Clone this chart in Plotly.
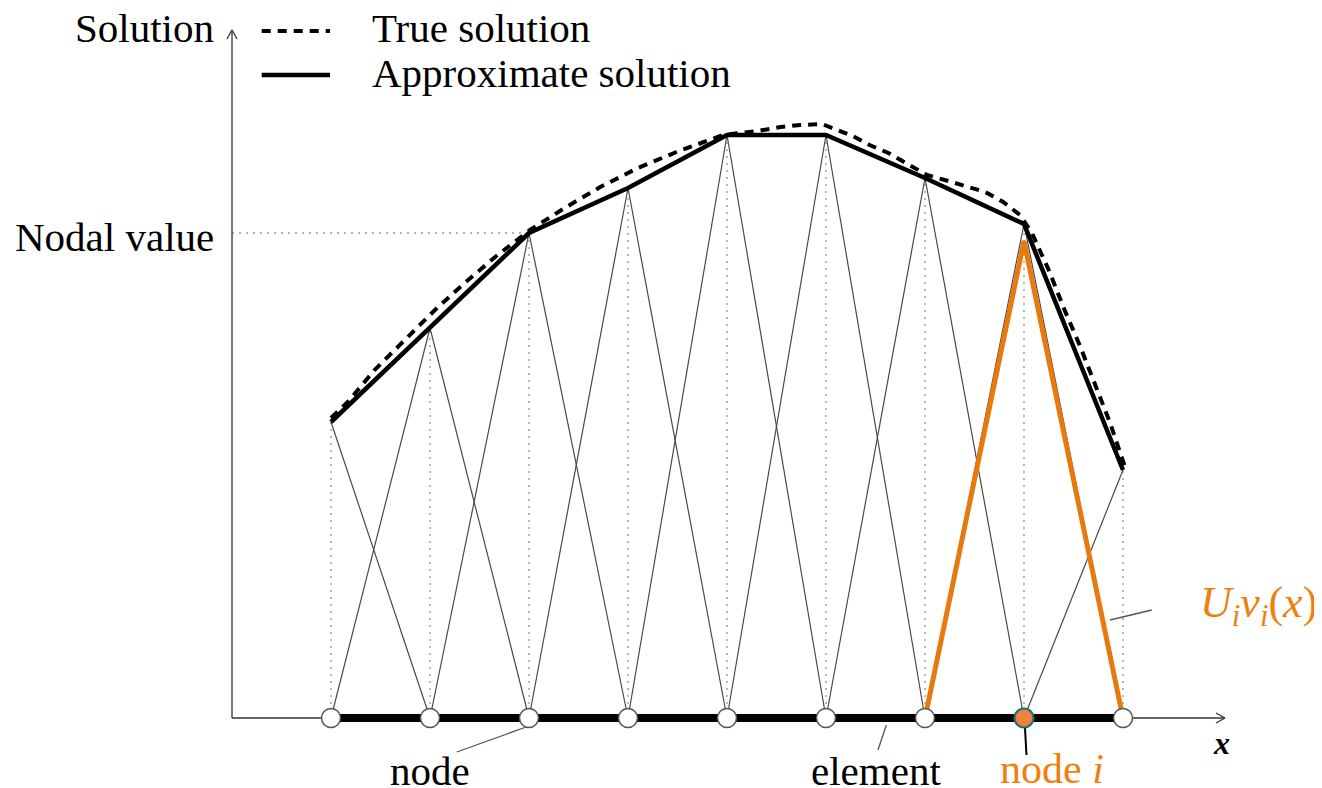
import plotly.graph_objects as go

# ---------------- data ----------------
node_x = [1, 2, 3, 4, 5, 6, 7, 8, 9]
nodal_values = [2.96, 3.90, 4.85, 5.30, 5.83, 5.83, 5.40, 4.94, 2.48]
true_x = [1.0, 1.17, 1.44, 1.75, 2.05, 2.35, 2.67, 3.01, 3.36, 3.72, 4.10, 4.49,
          4.69, 4.96, 5.31, 5.54, 5.74, 5.96, 6.27, 6.44, 6.63, 6.80, 7.02, 7.20,
          7.42, 7.61, 7.79, 7.96, 8.08, 8.25, 8.41, 8.57, 8.72, 8.87, 9.02]
true_y = [3.00, 3.16, 3.48, 3.79, 4.08, 4.35, 4.62, 4.88, 5.10, 5.31, 5.50, 5.66,
          5.73, 5.83, 5.87, 5.91, 5.93, 5.94, 5.82, 5.73, 5.65, 5.55, 5.43, 5.38,
          5.32, 5.26, 5.16, 5.03, 4.85, 4.48, 4.08, 3.71, 3.33, 2.95, 2.51]
highlight = 7          # index of "node i"
highlight_peak = 4.77  # U_i v_i(x) peak
labelled_node = 2      # node whose value is marked "Nodal value"
x_axis_end = 10.03
y_axis_end = 6.88

ORANGE = "#E8790C"
TEXT_ORANGE = "#F07F10"
SERIF = "Liberation Serif"

fig = go.Figure()

# dotted verticals under nodes
vx, vy = [], []
for x, u in zip(node_x, nodal_values):
    vx += [x, x, None]
    vy += [0, u, None]
# dotted horizontal for nodal value
vx += [0, node_x[labelled_node], None]
vy += [nodal_values[labelled_node], nodal_values[labelled_node], None]
fig.add_trace(go.Scatter(x=vx, y=vy, mode="lines",
                         line=dict(color="#9a9a9a", width=1.4, dash="2px,5px"),
                         hoverinfo="skip"))

# hat (basis) functions
hx, hy = [], []
n = len(node_x)
for k in range(n):
    xs, ys = [], []
    if k > 0:
        xs.append(node_x[k - 1]); ys.append(0)
    xs.append(node_x[k]); ys.append(nodal_values[k])
    if k < n - 1:
        xs.append(node_x[k + 1]); ys.append(0)
    hx += xs + [None]
    hy += ys + [None]
fig.add_trace(go.Scatter(x=hx, y=hy, mode="lines",
                         line=dict(color="#4a4a4a", width=1.2),
                         hoverinfo="skip"))

# highlighted hat function U_i v_i(x)
fig.add_trace(go.Scatter(
    x=[node_x[highlight - 1], node_x[highlight], node_x[highlight + 1]],
    y=[0, highlight_peak, 0], mode="lines",
    line=dict(color=ORANGE, width=5), hoverinfo="skip"))

# true solution (dashed)
fig.add_trace(go.Scatter(x=true_x, y=true_y, mode="lines",
                         line=dict(color="black", width=4, dash="9px,7px"),
                         hoverinfo="skip"))
# approximate solution
fig.add_trace(go.Scatter(x=node_x, y=nodal_values, mode="lines",
                         line=dict(color="black", width=4.5),
                         hoverinfo="skip"))

# axes
ax_col = "#333333"
fig.add_trace(go.Scatter(x=[0, x_axis_end], y=[0, 0], mode="lines",
                         line=dict(color=ax_col, width=1.3), hoverinfo="skip"))
fig.add_trace(go.Scatter(x=[0, 0], y=[0, y_axis_end], mode="lines",
                         line=dict(color=ax_col, width=1.3), hoverinfo="skip"))
# arrowheads (open chevrons)
dxp, dyp = 9 / 99, 5 / 100
fig.add_trace(go.Scatter(x=[x_axis_end - dxp, x_axis_end, x_axis_end - dxp],
                         y=[dyp, 0, -dyp], mode="lines",
                         line=dict(color=ax_col, width=1.3), hoverinfo="skip"))
fig.add_trace(go.Scatter(x=[-5 / 99, 0, 5 / 99],
                         y=[y_axis_end - 0.09, y_axis_end, y_axis_end - 0.09], mode="lines",
                         line=dict(color=ax_col, width=1.3), hoverinfo="skip"))

# elements: thick baseline
fig.add_trace(go.Scatter(x=[node_x[0], node_x[-1]], y=[0, 0], mode="lines",
                         line=dict(color="black", width=8), hoverinfo="skip"))

# leader lines
leaders = [
    ([3.0, 2.27], [-0.08, -0.34], "#555555", 1.3),
    ([6.61, 6.525], [-0.07, -0.32], "#555555", 1.3),
    ([8.01, 8.025], [-0.10, -0.37], "black", 2),
    ([8.87, 9.29], [0.98, 1.08], "#555555", 1.3),
]
for lx, ly, c, w in leaders:
    fig.add_trace(go.Scatter(x=lx, y=ly, mode="lines",
                             line=dict(color=c, width=w), hoverinfo="skip"))

# nodes
fills = ["white"] * n
edges = ["#555555"] * n
widths = [1.5] * n
fills[highlight] = "#EE8142"
edges[highlight] = "#1B6E78"
widths[highlight] = 2.2
fig.add_trace(go.Scatter(x=node_x, y=[0] * n, mode="markers",
                         marker=dict(size=19, color=fills,
                                     line=dict(color=edges, width=widths)),
                         hoverinfo="skip"))

# legend samples
fig.add_trace(go.Scatter(x=[0.30, 0.99], y=[6.87, 6.87], mode="lines",
                         line=dict(color="black", width=4, dash="9px,7px"),
                         hoverinfo="skip"))
fig.add_trace(go.Scatter(x=[0.30, 0.99], y=[6.43, 6.43], mode="lines",
                         line=dict(color="black", width=4.5), hoverinfo="skip"))

anns = [
    dict(x=-0.16, y=6.90, text="Solution", xanchor="right", size=41, color="black"),
    dict(x=-0.16, y=nodal_values[labelled_node] - 0.04, text="Nodal value",
         xanchor="right", size=41, color="black"),
    dict(x=1.39, y=6.90, text="True solution", xanchor="left", size=41, color="black"),
    dict(x=1.39, y=6.45, text="Approximate solution", xanchor="left", size=41, color="black"),
    dict(x=2.0, y=-0.53, text="node", xanchor="center", size=41, color="black"),
    dict(x=6.5, y=-0.53, text="element", xanchor="center", size=41, color="black"),
    dict(x=8.28, y=-0.51, text="node <i>i</i>", xanchor="center", size=42, color=TEXT_ORANGE),
    dict(x=9.99, y=-0.25, text="<b><i>x</i></b>", xanchor="center", size=32, color="black"),
    dict(x=9.76, y=1.13, text="<i>U<sub>i</sub>v<sub>i</sub></i>(<i>x</i>)",
         xanchor="left", size=44, color=TEXT_ORANGE),
]
for a in anns:
    fig.add_annotation(x=a["x"], y=a["y"], text=a["text"], showarrow=False,
                       xanchor=a["xanchor"], yanchor="middle",
                       font=dict(family=SERIF, size=a["size"], color=a["color"]))

# page body has an 8px margin: size the figure to fill the rest of the
# window and offset the axis ranges so the drawing lands where it should
W, H = 1314, 780
OX, OY = 224, 710   # pixel position of the origin inside the figure
SX, SY = 99, 100    # pixels per data unit

fig.update_layout(
    width=W, height=H,
    margin=dict(l=0, r=0, t=0, b=0),
    paper_bgcolor="white", plot_bgcolor="white",
    showlegend=False,
    xaxis=dict(range=[-OX / SX, (W - OX) / SX], visible=False, fixedrange=True),
    yaxis=dict(range=[(OY - H) / SY, OY / SY], visible=False, fixedrange=True),
)

fig.write_html("out.html")
